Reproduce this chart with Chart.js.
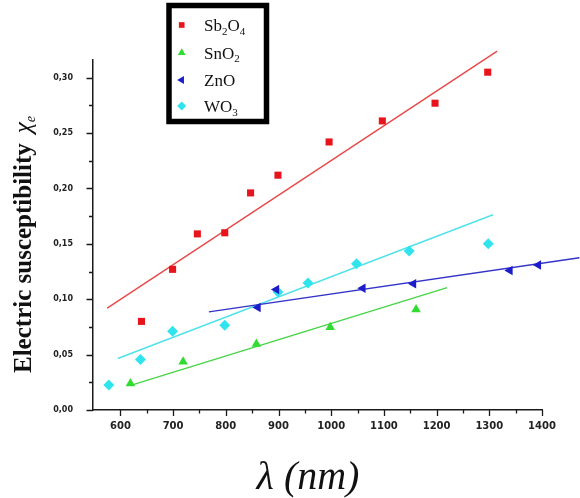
<!DOCTYPE html>
<html>
<head>
<meta charset="utf-8">
<script src="https://cdn.jsdelivr.net/npm/chart.js"></script>
<style>
  html, body { margin: 0; padding: 0; background: #fff; }
</style>
</head>
<body>
<canvas id="chart" width="580" height="498"></canvas>
<script>
/* global Chart */

// Sb2O4
const sbX = [640, 699, 746, 798, 847, 899, 996, 1097, 1197, 1297];
const sbY = [0.080, 0.127, 0.159, 0.160, 0.196, 0.212, 0.242, 0.261, 0.277, 0.305];
const sbFitX = [575, 1315];
const sbFitY = [0.092, 0.324];

// SnO2
const snX = [619, 719, 858, 998, 1161];
const snY = [0.024, 0.0435, 0.0595, 0.0748, 0.0907];
const snFitX = [621, 1220];
const snFitY = [0.0225, 0.1105];

// ZnO
const znX = [861, 896, 1060, 1156, 1339, 1393];
const znY = [0.0925, 0.1087, 0.110, 0.114, 0.126, 0.131];
const znFitX = [768, 1471];
const znFitY = [0.0886, 0.1375];

// WO3
const woX = [578, 638, 699, 798, 899, 956, 1048, 1148, 1298];
const woY = [0.0225, 0.0456, 0.0712, 0.0766, 0.1066, 0.1147, 0.132, 0.1435, 0.150];
const woFitX = [595, 1307];
const woFitY = [0.0465, 0.1763];

const seriesNames = ['Sb₂O₄', 'SnO₂', 'ZnO', 'WO₃'];

const xTicks = [600, 700, 800, 900, 1000, 1100, 1200, 1300, 1400];
const xMinor = [650, 750, 850, 950, 1050, 1150, 1250, 1350];
const yTicks = [0, 0.05, 0.10, 0.15, 0.20, 0.25, 0.30];
const yMinor = [0.025, 0.075, 0.125, 0.175, 0.225, 0.275];

const xTitle = 'λ (nm)';
const yTitle = 'Electric susceptibility';

const pts = (xs, ys) => xs.map((v, i) => ({ x: v, y: ys[i] }));

function pointSet(label, xs, ys, color, style, radius, rotation) {
    return {
        label: label,
        data: pts(xs, ys),
        showLine: false,
        pointStyle: style,
        pointRadius: radius,
        pointRotation: rotation || 0,
        backgroundColor: color,
        borderColor: color,
        borderWidth: 0,
        order: 1
    };
}

function fitSet(xs, ys, color) {
    return {
        label: '',
        data: pts(xs, ys),
        showLine: true,
        pointRadius: 0,
        borderColor: color,
        borderWidth: 1.4,
        clip: false,
        order: 2
    };
}

const markers = [
    { color: '#e8141c', style: 'rect', radius: 5, rotation: 0 },
    { color: '#30dc30', style: 'triangle', radius: 5.5, rotation: 0 },
    { color: '#1c1cc8', style: 'triangle', radius: 5.5, rotation: -90 },
    { color: '#30e4ee', style: 'rectRot', radius: 5.5, rotation: 0 }
];

// draw text where unicode subscript digits are drawn small and lowered
function drawSubText(ctx, text, x, y, size, family, style) {
    let cx = x;
    for (const ch of text) {
        const code = ch.codePointAt(0);
        if (code >= 0x2080 && code <= 0x2089) {
            ctx.font = `${style} ${Math.round(size * 0.62)}px ${family}`;
            const d = String(code - 0x2080);
            ctx.fillText(d, cx, y + size * 0.22);
            cx += ctx.measureText(d).width;
        } else {
            ctx.font = `${style} ${size}px ${family}`;
            ctx.fillText(ch, cx, y);
            cx += ctx.measureText(ch).width;
        }
    }
}

const decor = {
    id: 'decor',
    afterDraw(chart) {
        const { ctx, scales: { x, y }, chartArea: a } = chart;
        ctx.save();

        // tick marks
        ctx.strokeStyle = '#1a1a1a';
        ctx.lineWidth = 1.3;
        ctx.beginPath();
        xTicks.forEach(v => { const p = Math.round(x.getPixelForValue(v)) + 0.5; ctx.moveTo(p, a.bottom); ctx.lineTo(p, a.bottom + 6); });
        xMinor.forEach(v => { const p = Math.round(x.getPixelForValue(v)) + 0.5; ctx.moveTo(p, a.bottom); ctx.lineTo(p, a.bottom + 3.5); });
        yTicks.forEach(v => { const p = Math.round(y.getPixelForValue(v)) + 0.5; ctx.moveTo(a.left, p); ctx.lineTo(a.left - 6.5, p); });
        yMinor.forEach(v => { const p = Math.round(y.getPixelForValue(v)) + 0.5; ctx.moveTo(a.left, p); ctx.lineTo(a.left - 4, p); });
        ctx.stroke();

        // y title
        ctx.fillStyle = '#111';
        ctx.save();
        ctx.translate(31, 373);
        ctx.rotate(-Math.PI / 2);
        ctx.textBaseline = 'alphabetic';
        ctx.textAlign = 'left';
        ctx.font = 'bold 25px "Liberation Serif"';
        ctx.fillText(yTitle, 0, 0);
        let w = ctx.measureText(yTitle).width + 10;
        ctx.font = 'italic 25px "Liberation Serif"';
        ctx.fillText('χ', w, 0);
        w += ctx.measureText('χ').width;
        ctx.font = 'italic 14px "Liberation Serif"';
        ctx.fillText('e', w, 4);
        ctx.restore();

        // x title
        ctx.save();
        ctx.font = 'italic 40px "Liberation Serif"';
        ctx.textAlign = 'center';
        ctx.textBaseline = 'alphabetic';
        ctx.fillText(xTitle, 308, 489);
        ctx.restore();

        // legend box
        ctx.strokeStyle = '#000';
        ctx.lineWidth = 5.5;
        ctx.strokeRect(169, 5.5, 97.5, 116);
        const rows = [25, 52.7, 80, 106];
        ctx.textAlign = 'left';
        ctx.textBaseline = 'alphabetic';
        seriesNames.forEach((name, i) => {
            const m = markers[i];
            ctx.fillStyle = m.color;
            ctx.strokeStyle = m.color;
            Chart.helpers.drawPoint(ctx, { pointStyle: m.style, radius: m.radius - 1, rotation: m.rotation, borderWidth: 0 }, 181.7, rows[i]);
            ctx.fillStyle = '#111';
            drawSubText(ctx, name, 204, rows[i] + 6, 17, '"Liberation Serif"', 'normal');
        });

        ctx.restore();
    }
};

new Chart(document.getElementById('chart').getContext('2d'), {
    type: 'scatter',
    data: {
        datasets: [
            pointSet(seriesNames[0], sbX, sbY, markers[0].color, markers[0].style, markers[0].radius),
            pointSet(seriesNames[1], snX, snY, markers[1].color, markers[1].style, markers[1].radius),
            pointSet(seriesNames[2], znX, znY, markers[2].color, markers[2].style, markers[2].radius, markers[2].rotation),
            pointSet(seriesNames[3], woX, woY, markers[3].color, markers[3].style, markers[3].radius),
            fitSet(sbFitX, sbFitY, '#e84848'),
            fitSet(snFitX, snFitY, '#48d448'),
            fitSet(znFitX, znFitY, '#3434c8'),
            fitSet(woFitX, woFitY, '#50e2ea')
        ]
    },
    options: {
        responsive: false,
        animation: false,
        devicePixelRatio: 1,
        layout: {
            padding: { top: 60, right: 38, left: 0, bottom: 0 }
        },
        scales: {
            x: {
                type: 'linear',
                min: 548,
                max: 1400,
                afterFit: (s) => { s.height = 88; },
                afterBuildTicks: (s) => { s.ticks = xTicks.map(v => ({ value: v })); },
                grid: { display: false, drawTicks: false },
                border: { display: true, color: '#1a1a1a', width: 1.5 },
                ticks: {
                    padding: 10,
                    color: '#222',
                    maxRotation: 0,
                    font: { family: '"DejaVu Sans"', weight: 'bold', size: 10 },
                    callback: (v) => String(v)
                }
            },
            y: {
                type: 'linear',
                min: 0,
                max: 0.316,
                afterFit: (s) => { s.width = 93; },
                afterBuildTicks: (s) => { s.ticks = yTicks.map(v => ({ value: v })); },
                grid: { display: false, drawTicks: false },
                border: { display: true, color: '#1a1a1a', width: 1.5 },
                ticks: {
                    padding: 20,
                    color: '#222',
                    font: { family: '"DejaVu Sans"', weight: 'bold', size: 8 },
                    callback: (v) => v.toFixed(2).replace('.', ',')
                }
            }
        },
        plugins: {
            legend: { display: false },
            tooltip: { enabled: false }
        }
    },
    plugins: [decor]
});
</script>
</body>
</html>
